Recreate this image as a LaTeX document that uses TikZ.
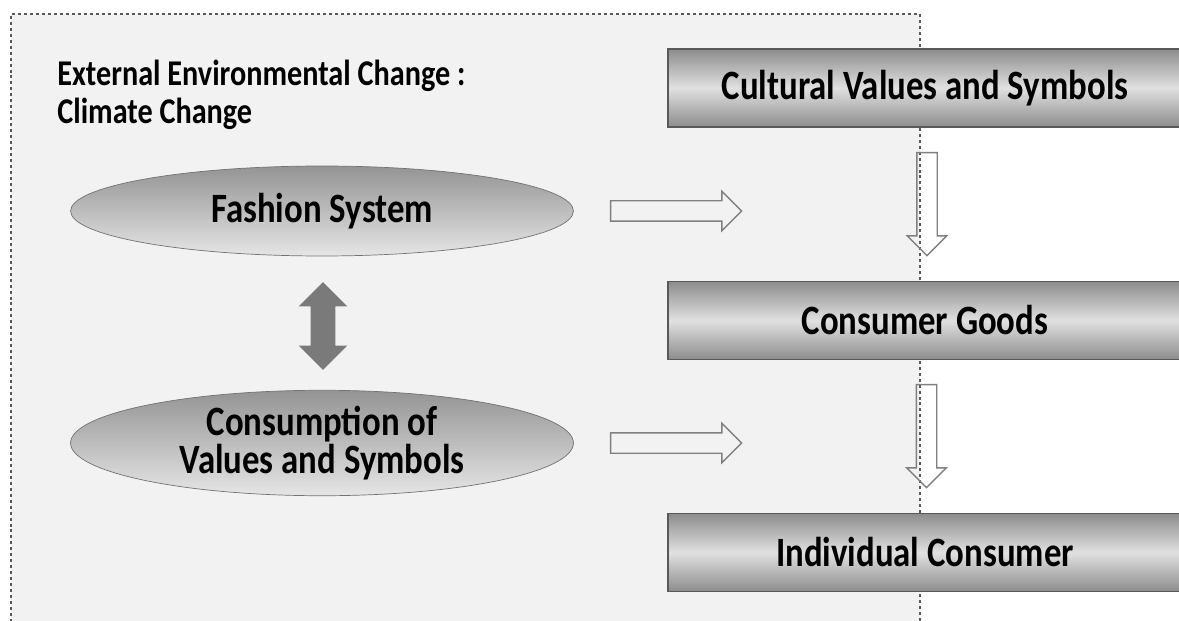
\documentclass[tikz,border=0pt]{standalone}
\usepackage{fontspec}
\setmainfont{Carlito}
\usetikzlibrary{shapes.geometric,shapes.arrows}
\newcommand\tallline[1]{\scalebox{1}[1.2]{#1}}
\tikzset{
  lbl/.style={font=\fontsize{19.8}{22}\selectfont\bfseries, text=black},
  bar/.style={draw=black!65, line width=1pt, top color=black!45, bottom color=black!45,
    middle color=black!12, minimum width=10.28cm, minimum height=1.56cm, inner sep=0pt, lbl},
  oval/.style={ellipse, draw=black!55, top color=black!42, bottom color=black!10,
    minimum width=10.06cm, minimum height=1.8cm, inner sep=0pt, align=center, lbl},
  hollow/.style={single arrow, draw=black!50, line width=0.8pt, inner xsep=0pt,
    inner ysep=0.19cm, single arrow head extend=0.19cm},
  solid2/.style={double arrow, fill=black!52, draw=none, inner xsep=0pt, inner ysep=0.24cm,
    double arrow head extend=0.24cm, minimum height=1.76cm}
}
\begin{document}
\begin{tikzpicture}[x=0.02cm, y=-0.02cm]
  \useasboundingbox (0,0) rectangle (1179,621);
  % gray panel with dotted border
  \fill[black!5] (11,14) rectangle (920,640);
  \draw[black!65, line width=1.5pt, dash pattern=on 1.7pt off 1.7pt] (11,640) -- (11,14) -- (920,14) -- (920,640);
  \node[lbl, align=left, anchor=north west, inner sep=0pt, font=\fontsize{17.2}{21.5}\selectfont\bfseries] (title) at (57,60)
    {\tallline{External Environmental Change :}\\\tallline{Climate Change}};
  % right column
  \node[bar] (values) at (925,88) {\tallline{Cultural Values and Symbols}};
  \node[bar] (goods) at (925,320.5) {\tallline{Consumer Goods}};
  \node[bar] (consumer) at (925,552.5) {\tallline{Individual Consumer}};
  % left column
  \node[oval] (fashion) at (322,211) {\tallline{Fashion System}};
  \node[oval] (consumption) at (322,443)
    {\tallline{Consumption of}\\\tallline{Values and Symbols}};
  \node[solid2, rotate=90] (link) at (323,326) {};
  % hollow arrows
  \node[hollow, minimum height=2.62cm] (toright1) at (671,211) {};
  \node[hollow, minimum height=2.62cm] (toright2) at (671,443) {};
  \node[hollow, minimum height=2.06cm, rotate=-90] (down1) at (927,199) {};
  \node[hollow, minimum height=2.06cm, rotate=-90] (down2) at (926.5,431) {};
\end{tikzpicture}
\end{document}
